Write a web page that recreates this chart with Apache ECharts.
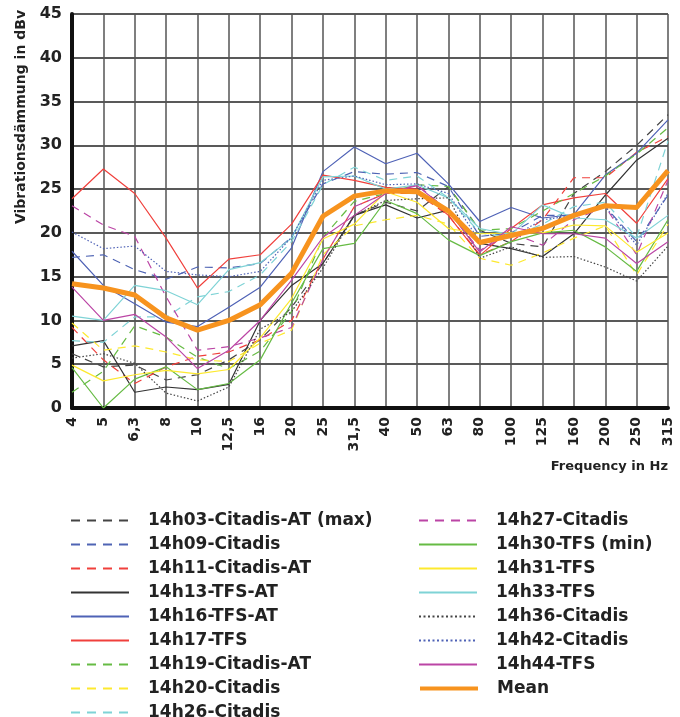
<!DOCTYPE html>
<html>
<head>
<meta charset="utf-8">
<script src="https://cdn.jsdelivr.net/npm/echarts@6/dist/echarts.min.js"></script>
<style>
html,body{margin:0;padding:0;background:#fff;}
#c{width:680px;height:717px;}
</style>
</head>
<body>
<div id="c"></div>
<script>
var categories = ['4','5','6,3','8','10','12,5','16','20','25','31,5','40','50','63','80','100','125','160','200','250','315'];
var yTicks = [0,5,10,15,20,25,30,35,40,45];

var s1403 = [6.2,4.7,4.9,3.2,3.8,5.5,7.8,11.5,16.5,22.0,23.5,22.5,25.3,20.3,18.8,18.4,24.5,27.0,30.0,33.5];
var s1409 = [17.2,17.5,15.8,14.7,16.1,16.0,16.5,19.5,25.6,27.0,26.7,26.9,25.3,19.6,20.0,22.0,22.0,23.0,19.0,24.3];
var s1411 = [9.2,5.5,2.8,4.7,5.9,6.4,7.8,10.0,17.0,23.0,24.5,24.5,22.0,17.5,19.0,21.5,26.3,26.3,29.2,31.0];
var s1413 = [7.1,7.7,1.8,2.4,2.1,2.7,10.0,14.0,16.5,22.0,23.2,21.7,22.6,18.8,18.2,17.3,19.9,24.3,28.3,30.8];
var s1416 = [17.9,14.0,11.9,9.8,9.3,11.5,13.8,18.3,27.0,29.8,27.9,29.1,25.6,21.3,22.9,21.7,22.1,26.6,29.1,32.9];
var s1417 = [23.9,27.3,24.5,19.4,13.7,17.0,17.5,21.0,26.6,26.0,25.2,25.0,22.0,17.4,20.5,23.2,24.0,24.5,21.1,26.2];
var s1419 = [1.8,4.2,9.4,8.1,5.8,4.5,6.5,11.0,19.5,23.6,24.5,25.5,25.3,20.3,20.5,22.5,24.5,26.5,29.0,32.0];
var s1420 = [9.7,6.6,7.1,6.4,5.5,5.3,7.4,8.9,17.5,20.8,21.5,22.0,21.0,17.1,16.3,17.7,19.4,20.8,15.2,21.0];
var s1426 = [7.7,7.5,10.4,10.4,12.7,13.3,15.2,19.0,25.5,27.5,26.0,26.5,24.0,20.0,19.5,21.0,23.0,23.5,19.5,30.5];
var s1427 = [23.1,20.9,19.6,12.7,6.6,7.0,8.0,9.2,17.0,23.0,24.5,25.5,22.5,18.0,20.0,18.6,21.5,23.0,17.5,26.0];
var s1430 = [4.6,0.0,3.3,4.7,2.1,2.8,5.5,12.0,18.2,18.8,23.7,22.2,19.2,17.4,19.0,20.0,20.3,18.4,15.6,21.5];
var s1431 = [4.9,3.1,3.8,4.3,3.9,4.4,8.0,12.5,19.3,21.0,24.7,23.5,20.5,19.9,20.0,20.0,20.9,20.8,17.8,20.0];
var s1433 = [10.5,10.0,14.0,13.4,11.8,15.8,16.6,19.4,26.4,26.5,25.0,25.5,24.0,20.5,19.8,23.2,21.7,21.5,19.4,22.0];
var s1436 = [5.7,6.2,5.1,1.7,0.8,2.4,9.0,11.0,16.0,22.0,23.7,23.9,24.0,17.1,18.4,17.2,17.3,16.1,14.5,18.5];
var s1442 = [20.1,18.2,18.5,15.6,15.2,15.0,15.6,19.5,26.0,26.5,25.5,25.6,24.5,19.0,19.5,21.5,22.0,23.0,18.6,24.5];
var s1444 = [13.8,10.0,10.7,8.1,4.5,6.6,10.0,14.6,19.5,22.0,24.5,25.4,22.5,17.8,20.7,19.9,19.9,19.4,16.5,19.0];
var sMean = [14.2,13.7,12.9,10.3,8.9,10.0,11.8,15.4,21.9,24.2,24.8,24.7,22.5,18.9,19.7,20.5,22.0,23.1,22.9,27.1];

var leftNames = ['14h03-Citadis-AT (max)','14h09-Citadis','14h11-Citadis-AT','14h13-TFS-AT','14h16-TFS-AT','14h17-TFS','14h19-Citadis-AT','14h20-Citadis','14h26-Citadis'];
var rightNames = ['14h27-Citadis','14h30-TFS (min)','14h31-TFS','14h33-TFS','14h36-Citadis','14h42-Citadis','14h44-TFS','Mean'];

var DASH = [8,6], DOT = [1.5,2];
var LDASH = [9,7], LDOT = [2,2.5];
function mk(name, data, color, type, width, z){
  return {name:name, type:'line', data:data, symbol:'none', showSymbol:false, animation:false,
    lineStyle:{color:color, width:width||1.2, type:type||'solid'}, itemStyle:{color:color}, z:z||3};
}
var FONT = '"DejaVu Sans", sans-serif';
var series = [
  mk(leftNames[0], s1403, '#444', DASH),
  mk(leftNames[1], s1409, '#4f64b4', DASH),
  mk(leftNames[2], s1411, '#f0403c', DASH),
  mk(leftNames[3], s1413, '#333', 'solid'),
  mk(leftNames[4], s1416, '#4f62b6', 'solid'),
  mk(leftNames[5], s1417, '#f0403c', 'solid'),
  mk(leftNames[6], s1419, '#66bb44', DASH),
  mk(leftNames[7], s1420, '#fde92e', DASH),
  mk(leftNames[8], s1426, '#7fd3d6', DASH),
  mk(rightNames[0], s1427, '#bb45a5', DASH),
  mk(rightNames[1], s1430, '#66bb44', 'solid'),
  mk(rightNames[2], s1431, '#fde92e', 'solid'),
  mk(rightNames[3], s1433, '#7fd3d6', 'solid'),
  mk(rightNames[4], s1436, '#444', DOT),
  mk(rightNames[5], s1442, '#4f62b6', DOT),
  mk(rightNames[6], s1444, '#bb45a5', 'solid'),
  mk(rightNames[7], sMean, '#f7931e', 'solid', 5, 10)
];

function legendType(t){ return t === DASH ? LDASH : (t === DOT ? LDOT : 'solid'); }
var legendText = {fontFamily:FONT, fontWeight:'bold', fontSize:17, color:'#222', padding:[0,0,0,14]};
var legends = [];
series.forEach(function(s, i){
  var col = i < leftNames.length ? 0 : 1;
  var row = col === 0 ? i : i - leftNames.length;
  var item = {name:s.name};
  if (s.name !== 'Mean') item.lineStyle = {width:2, type:legendType(s.lineStyle.type)};
  else item.lineStyle = {width:4, type:'solid'};
  legends.push({data:[item], orient:'vertical', left: col === 0 ? 70 : 418, top: 512 + row*24,
    padding:0, itemWidth:58, itemHeight:14, itemStyle:{opacity:0}, textStyle:legendText, selectedMode:false});
});

var chart = echarts.init(document.getElementById('c'), null, {renderer:'canvas'});
chart.setOption({
  animation:false,
  backgroundColor:'#fff',
  grid:{left:72, right:12, top:14, bottom:309, containLabel:false},
  xAxis:{type:'category', data:categories, boundaryGap:false,
    axisLine:{show:true, lineStyle:{color:'#111', width:4}},
    axisTick:{show:false},
    splitLine:{show:true, lineStyle:{color:'#555', width:1.5}},
    axisLabel:{rotate:90, interval:0, margin:9, fontFamily:FONT, fontWeight:'bold', fontSize:14, color:'#222'}
  },
  yAxis:{type:'value', min:0, max:45, interval:5,
    axisLine:{show:true, lineStyle:{color:'#111', width:4}},
    axisTick:{show:false},
    splitLine:{show:true, lineStyle:{color:'#222', width:1.5}},
    axisLabel:{margin:10, fontFamily:FONT, fontWeight:'bold', fontSize:16, color:'#222',
      formatter:function(v){ return yTicks.indexOf(v) >= 0 ? String(v) : ''; }}
  },
  legend:legends,
  graphic:[
    {type:'text', x:21, y:117, rotation:Math.PI/2,
      style:{text:'Vibrationsdämmung in dBv', fontFamily:FONT, fontWeight:'bold', fontSize:14, fill:'#222', textAlign:'center', textVerticalAlign:'middle'}},
    {type:'text', x:668, y:467,
      style:{text:'Frequency in Hz', fontFamily:FONT, fontWeight:'bold', fontSize:13, fill:'#222', textAlign:'right', textVerticalAlign:'middle'}}
  ],
  series:series
});
</script>
</body>
</html>
